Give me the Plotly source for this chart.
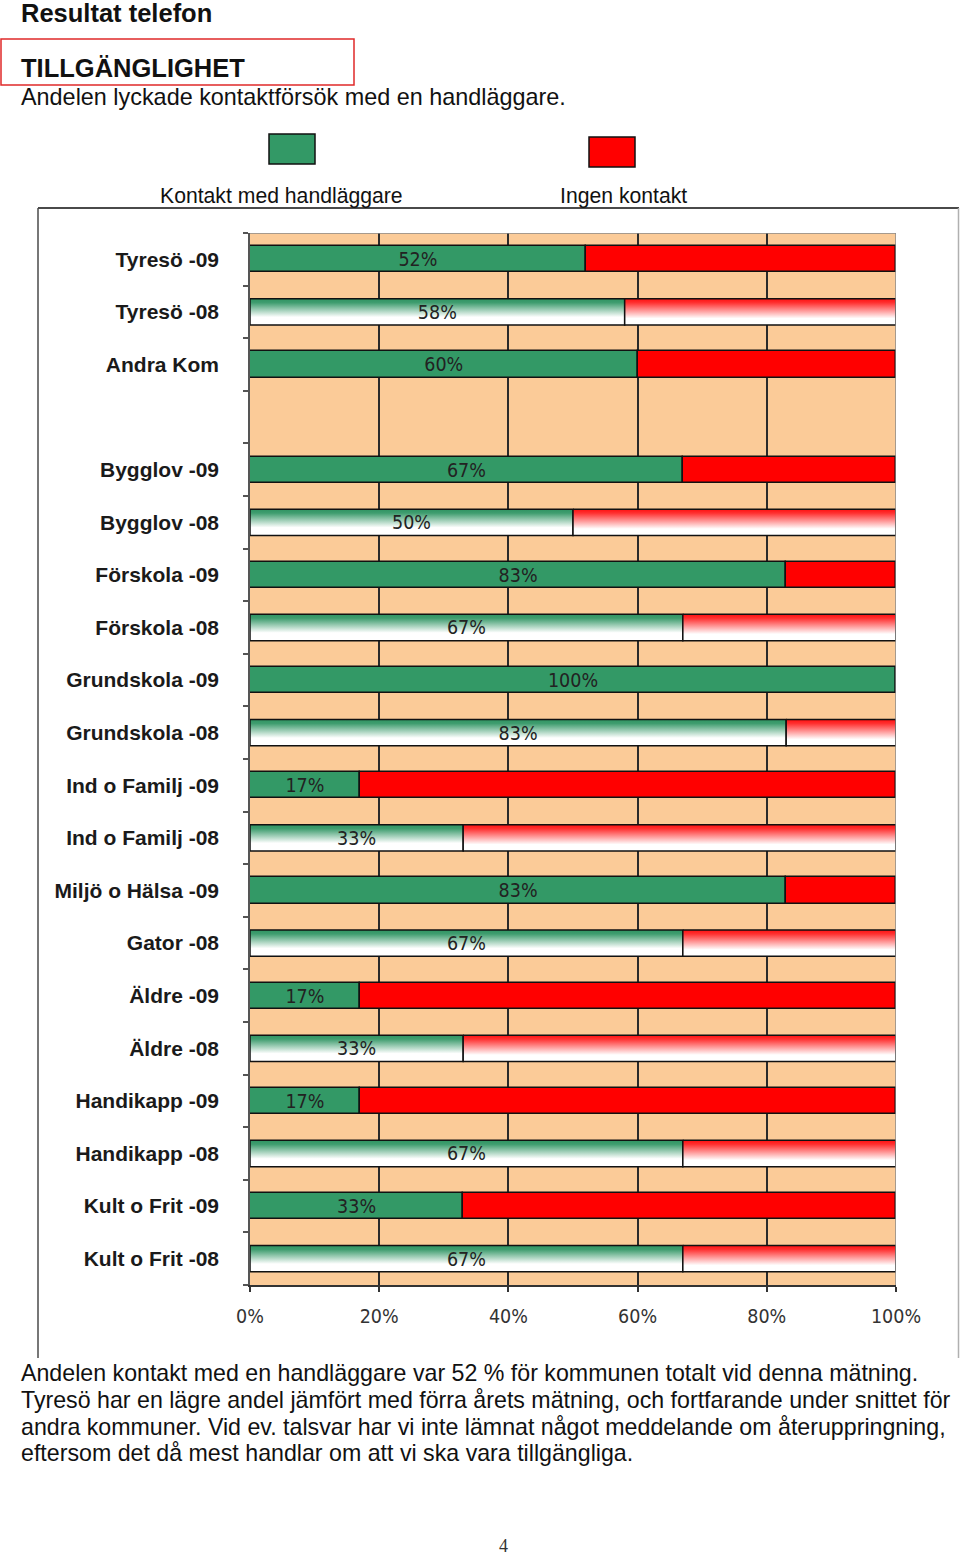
import plotly.graph_objects as go

# ---------------- data ----------------
categories = ["Tyresö -09", "Tyresö -08", "Andra Kom", "",
              "Bygglov -09", "Bygglov -08", "Förskola -09", "Förskola -08",
              "Grundskola -09", "Grundskola -08", "Ind o Familj -09", "Ind o Familj -08",
              "Miljö o Hälsa -09", "Gator -08", "Äldre -09", "Äldre -08",
              "Handikapp -09", "Handikapp -08", "Kult o Frit -09", "Kult o Frit -08"]
kontakt = [52, 58, 60, None, 67, 50, 83, 67, 100, 83, 17, 33, 83, 67, 17, 33, 17, 67, 33, 67]
ingen = [48, 42, 40, None, 33, 50, 17, 33, 0, 17, 83, 67, 17, 33, 83, 67, 83, 33, 67, 33]
series_names = ["Kontakt med handläggare", "Ingen kontakt"]
x_ticks = [0, 20, 40, 60, 80, 100]
x_ticklabels = ["0%", "20%", "40%", "60%", "80%", "100%"]

# ---------------- style ----------------
W, H = 960, 1556
GREEN = "#339966"
RED = "#ff0000"
PEACH = "#fbcb98"
BAR_W = 0.5
NARROW = "Liberation Sans Narrow, Arial Narrow, DejaVu Sans Condensed, Liberation Sans, Arial, sans-serif"
SANS = "Liberation Sans, Arial, Helvetica, sans-serif"


def px(x):
    return x / W


def py(y):
    return 1 - y / H


fig = go.Figure()

idx = list(range(len(categories)))
solid_rows = [i for i in idx if kontakt[i] is not None and not categories[i].endswith("-08")]
grad_rows = [i for i in idx if kontakt[i] is not None and categories[i].endswith("-08")]

# solid bars (stacked)
fig.add_trace(go.Bar(
    y=solid_rows, x=[kontakt[i] for i in solid_rows], base=[0 for i in solid_rows],
    orientation="h", width=BAR_W, name=series_names[0],
    marker=dict(color=GREEN, line=dict(color="#111", width=1.5)), showlegend=False))
fig.add_trace(go.Bar(
    y=solid_rows, x=[ingen[i] for i in solid_rows], base=[kontakt[i] for i in solid_rows],
    orientation="h", width=BAR_W, name=series_names[1],
    marker=dict(color=RED, line=dict(color="#111", width=1.5)), showlegend=False))

# gradient bars (previous year)
green_scale = [[0, "#2f9462"], [0.15, "#3f9d6f"], [0.7, "#ffffff"], [1, "#ffffff"]]
red_scale = [[0, "#ff1010"], [0.15, "#ff3030"], [0.75, "#ffffff"], [1, "#ffffff"]]
for i in grad_rows:
    y0, y1 = i - BAR_W / 2, i + BAR_W / 2
    for start, length, scale in ((0, kontakt[i], green_scale), (kontakt[i], ingen[i], red_scale)):
        if length <= 0:
            continue
        x0, x1 = start, start + length
        fig.add_trace(go.Scatter(
            x=[x0, x1, x1, x0, x0], y=[y0, y0, y1, y1, y0],
            mode="lines", fill="toself",
            fillgradient=dict(type="vertical", colorscale=scale, start=y0, stop=y1),
            line=dict(color="#111", width=1.5), hoverinfo="skip", showlegend=False))

# value labels
lab_rows = [i for i in idx if kontakt[i] is not None]
fig.add_trace(go.Scatter(
    x=[kontakt[i] / 2 for i in lab_rows], y=[i + 0.04 for i in lab_rows],
    text=[f"{kontakt[i]}%" for i in lab_rows], mode="text",
    textposition="middle center",
    textfont=dict(family=NARROW, size=19.5, color="#222"),
    hoverinfo="skip", showlegend=False))

n = len(categories)
fig.update_layout(
    width=W, height=H, autosize=False,
    margin=dict(l=0, r=0, t=0, b=0, pad=0, autoexpand=False),
    paper_bgcolor="white", plot_bgcolor=PEACH,
    barmode="overlay", bargap=0, showlegend=False,
    xaxis=dict(
        domain=[px(250), px(896)], range=[0, 100], automargin=False,
        tickmode="array", tickvals=x_ticks, ticktext=x_ticklabels,
        ticks="outside", ticklen=5, tickwidth=1.5, tickcolor="#333",
        tickfont=dict(family=NARROW, size=19.5, color="#333"),
        ticklabelstandoff=8,
        showgrid=False, zeroline=False,
        showline=True, linecolor="#333", linewidth=1.5,
        minor=dict(tickmode="array", tickvals=x_ticks[1:-1], ticks="",
                   showgrid=True, gridcolor="#2a2a2a", gridwidth=1.5),
        fixedrange=True),
    yaxis=dict(
        domain=[py(1285), py(233)], range=[n - 0.5, -0.5], automargin=False,
        tickmode="array", tickvals=[i for i in idx if categories[i]],
        ticktext=[c for c in categories if c],
        ticks="", tickfont=dict(family=SANS, size=21, color="#1a1a1a", weight="bold"),
        ticklabelstandoff=25,
        showgrid=False, zeroline=False,
        showline=True, linecolor="#555", linewidth=1.5,
        minor=dict(tickmode="array", tickvals=[k - 0.5 for k in range(n + 1)],
                   ticks="outside", ticklen=5, tickwidth=1.5, tickcolor="#555", showgrid=False),
        fixedrange=True),
)

shapes = []
# plot area top / right edges (grey)
shapes.append(dict(type="line", xref="x", yref="y", x0=0, x1=100, y0=-0.5, y1=-0.5,
                   line=dict(color="#8a8a8a", width=1.5)))
shapes.append(dict(type="line", xref="x", yref="y", x0=100, x1=100, y0=-0.5, y1=n - 0.5,
                   line=dict(color="#8a8a8a", width=1.5)))
# outer chart frame
shapes.append(dict(type="line", xref="paper", yref="paper", x0=px(38), x1=px(959), y0=py(208), y1=py(208),
                   line=dict(color="#4a4a4a", width=2)))
shapes.append(dict(type="line", xref="paper", yref="paper", x0=px(38), x1=px(38), y0=py(208), y1=py(1358),
                   line=dict(color="#4a4a4a", width=1.5)))
shapes.append(dict(type="line", xref="paper", yref="paper", x0=px(958.5), x1=px(958.5), y0=py(208), y1=py(1358),
                   line=dict(color="#b0b0b0", width=1.5)))
# red title box
shapes.append(dict(type="rect", xref="paper", yref="paper", x0=px(1), x1=px(354), y0=py(85), y1=py(39),
                   line=dict(color="#e02a2a", width=1.5)))
# legend swatches
shapes.append(dict(type="rect", xref="paper", yref="paper", x0=px(269), x1=px(315), y0=py(164), y1=py(134),
                   fillcolor=GREEN, line=dict(color="#111", width=1.5)))
shapes.append(dict(type="rect", xref="paper", yref="paper", x0=px(589), x1=px(635), y0=py(167), y1=py(137),
                   fillcolor=RED, line=dict(color="#111", width=1.5)))
fig.update_layout(shapes=shapes)

ann = []


def text(x, y, s, size, anchor="left", bold=False, family=SANS, color="#111"):
    ann.append(dict(xref="paper", yref="paper", x=px(x), y=py(y), text=s, showarrow=False,
                    xanchor=anchor, yanchor="middle",
                    font=dict(family=family, size=size, color=color, weight="bold" if bold else "normal")))


text(19, 13, "Resultat telefon", 25.5, bold=True)
text(19, 68, "TILLGÄNGLIGHET", 25.5, bold=True)
text(19, 97, "Andelen lyckade kontaktförsök med en handläggare.", 23.4)
text(281, 196, series_names[0], 21.2, anchor="center")
text(623, 196, series_names[1], 21.2, anchor="center")
body = ["Andelen kontakt med en handläggare var 52 % för kommunen totalt vid denna mätning.",
        "Tyresö har en lägre andel jämfört med förra årets mätning, och fortfarande under snittet för",
        "andra kommuner. Vid ev. talsvar har vi inte lämnat något meddelande om återuppringning,",
        "eftersom det då mest handlar om att vi ska vara tillgängliga."]
for k, line in enumerate(body):
    text(19, 1373 + k * 26.8, line, 23.2)
text(503, 1546, "4", 18, anchor="center", family="Liberation Serif, Times New Roman, serif", color="#333")
fig.update_layout(annotations=ann)

fig.write_html("out.html")
